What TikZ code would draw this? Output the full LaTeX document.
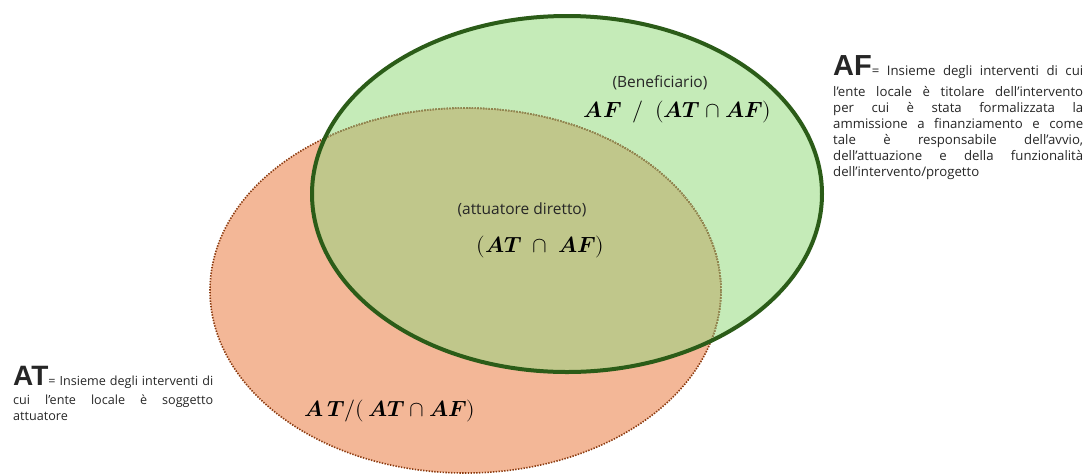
\documentclass[tikz,border=0pt]{standalone}
\usepackage{fontspec}
\usepackage{unicode-math}
\setmainfont{Open Sans}
\newfontfamily\bigsans{Liberation Sans}
\definecolor{orfill}{HTML}{F3B797}
\definecolor{orline}{HTML}{8B3A0F}
\definecolor{grfill}{HTML}{C5EBB8}
\definecolor{grline}{HTML}{2B5C18}
\definecolor{mixfill}{HTML}{C0C78B}
\definecolor{mixline}{HTML}{8C8C55}
\definecolor{txt}{HTML}{262626}
\begin{document}
\begin{tikzpicture}[x=1pt,y=-1pt,
  desc/.style={anchor=base west, inner sep=0pt, font=\fontsize{13.2}{15}\selectfont, text=txt},
  descat/.style={anchor=base west, inner sep=0pt, font=\fontsize{12.6}{15}\selectfont, text=txt},
  mathlbl/.style={anchor=base, inner sep=0pt, font=\fontsize{22}{26}\selectfont, text=black},
  smalllbl/.style={inner sep=0pt, font=\fontsize{15.5}{18}\selectfont, text=txt},
  orborder/.style={line width=1.6pt, dash pattern=on 1.4pt off 1.4pt},
  grborder/.style={line width=4pt, draw=grline}]
\useasboundingbox (0,0) rectangle (1085,475);
% fills
\fill[orfill] (465.5,290.5) ellipse [x radius=255.5pt, y radius=182.5pt];
\fill[grfill] (567,194) ellipse [x radius=255pt, y radius=178pt];
\begin{scope}
  \clip (465.5,290.5) ellipse [x radius=255.5pt, y radius=182.5pt];
  \fill[mixfill] (567,194) ellipse [x radius=255pt, y radius=178pt];
\end{scope}
% orange border
\draw[orborder, draw=orline] (465.5,290.5) ellipse [x radius=255.5pt, y radius=182.5pt];
\begin{scope}
  \clip (567,194) ellipse [x radius=255pt, y radius=178pt];
  \draw[orborder, draw=mixline] (465.5,290.5) ellipse [x radius=255.5pt, y radius=182.5pt];
\end{scope}
% green border
\draw[grborder] (567,194) ellipse [x radius=255pt, y radius=178pt];

% labels inside
\node[smalllbl] (benef) at (660,83) {(Beneficiario)};
\node[mathlbl] (afmath) at (677.5,117) {$\symbfit{AF}\ \ /\ \ (\symbfit{AT}\cap\symbfit{AF})$};
\node[smalllbl] (attdir) at (522,210) {(attuatore diretto)};
\node[mathlbl] (intmath) at (540.5,252) {$(\symbfit{AT}\;\cap\;\symbfit{AF})$};
\node[mathlbl] (atmath) at (390,416) {$\symbfit{A\,T}/(\,\symbfit{AT}\cap\symbfit{AF})$};

% AF description
\node[desc] (af1) at (833,75) {\makebox[250pt][s]{{\bigsans\bfseries\fontsize{29}{30}\selectfont AF}= Insieme degli interventi di cui}};
\node[desc] (af2) at (833,96) {\makebox[250pt][s]{l’ente locale è titolare dell’intervento}};
\node[desc] (af3) at (833,112) {\makebox[250pt][s]{per cui è stata formalizzata la}};
\node[desc] (af4) at (833,128) {\makebox[250pt][s]{ammissione a finanziamento e come}};
\node[desc] (af5) at (833,144) {\makebox[250pt][s]{tale è responsabile dell’avvio,}};
\node[desc] (af6) at (833,160) {\makebox[250pt][s]{dell’attuazione e della funzionalità}};
\node[desc] (af7) at (833,176) {dell’intervento/progetto};

% AT description
\node[descat] (at1) at (13,385) {\makebox[200pt][s]{{\bigsans\bfseries\fontsize{28}{30}\selectfont AT}= Insieme degli interventi di}};
\node[descat] (at2) at (13,404) {\makebox[200pt][s]{cui l’ente locale è soggetto}};
\node[descat] (at3) at (13,420) {attuatore};
\end{tikzpicture}
\end{document}
